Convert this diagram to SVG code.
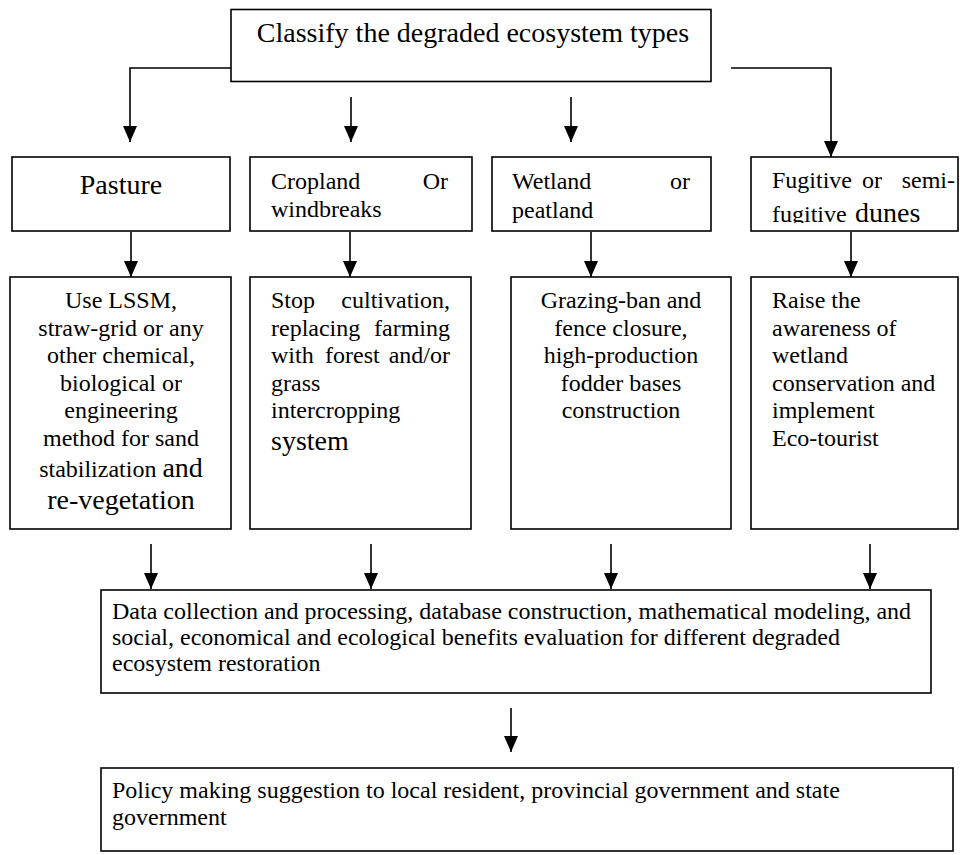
<svg xmlns="http://www.w3.org/2000/svg" width="960" height="855" viewBox="0 0 960 855">
<style>
.box{fill:#fff;stroke:#000;stroke-width:1.6}
.t{font-family:"Liberation Serif","Times New Roman",serif;font-size:24px;fill:#000}
.big{font-size:28px}
.c{text-anchor:middle}
.e{text-anchor:end}
.conn{fill:none;stroke:#000;stroke-width:1.6;marker-end:url(#arr)}
</style>
<defs>
<marker id="arr" markerUnits="userSpaceOnUse" markerWidth="16" markerHeight="14" viewBox="0 0 16 14" refX="16" refY="7" orient="auto">
<path d="M0,0 L16,7 L0,14 z" fill="#000"/>
</marker>
<clipPath id="clipFug"><rect x="751" y="157" width="209" height="66"/></clipPath>
</defs>
<rect width="960" height="855" fill="#fff"/>
<g id="connectors">
<path class="conn" d="M231,68 H130 V142"/>
<path class="conn" d="M351,97 V142"/>
<path class="conn" d="M571,97 V142"/>
<path class="conn" d="M731,68 H831 V157"/>
<path class="conn" d="M131,232 V277"/>
<path class="conn" d="M350,232 V277"/>
<path class="conn" d="M591,232 V277"/>
<path class="conn" d="M851,232 V277"/>
<path class="conn" d="M151,544 V589"/>
<path class="conn" d="M371,544 V589"/>
<path class="conn" d="M611,544 V589"/>
<path class="conn" d="M870,544 V589"/>
<path class="conn" d="M511,708 V752"/>
</g>
<g id="classify">
<rect class="box" x="231" y="9.5" width="480" height="72"/>
<text class="t big c" x="473" y="42">Classify the degraded ecosystem types</text>
</g>
<g id="pasture">
<rect class="box" x="12" y="157" width="218" height="74"/>
<text class="t big c" x="121" y="194">Pasture</text>
</g>
<g id="cropland">
<rect class="box" x="250" y="157" width="222" height="74"/>
<text class="t" x="271" y="189">Cropland</text>
<text class="t e" x="448" y="189">Or</text>
<text class="t" x="271" y="217">windbreaks</text>
</g>
<g id="wetland">
<rect class="box" x="492" y="157" width="219" height="74"/>
<text class="t" x="512" y="189">Wetland</text>
<text class="t e" x="690" y="189">or</text>
<text class="t" x="512" y="218">peatland</text>
</g>
<g id="dunes">
<rect class="box" x="751" y="157" width="207" height="74"/>
<text class="t" x="772" y="188">Fugitive</text>
<text class="t" x="862" y="188">or</text>
<text class="t e" x="955" y="188">semi-</text>
<g clip-path="url(#clipFug)">
<text class="t" x="772" y="222">fugitive</text>
</g>
<text class="t big" x="855" y="222">dunes</text>
</g>
<g id="pasture-method">
<rect class="box" x="10" y="277" width="221" height="252"/>
<text class="t c" x="121" y="308">Use LSSM,</text>
<text class="t c" x="121" y="336">straw-grid or any</text>
<text class="t c" x="121" y="363">other chemical,</text>
<text class="t c" x="121" y="391">biological or</text>
<text class="t c" x="121" y="418">engineering</text>
<text class="t c" x="121" y="446">method for sand</text>
<text class="t c" x="121" y="477">stabilization <tspan class="big">and</tspan></text>
<text class="t big c" x="121" y="509">re-vegetation</text>
</g>
<g id="cropland-method">
<rect class="box" x="250" y="277" width="221" height="252"/>
<text class="t" x="271" y="308">Stop</text>
<text class="t e" x="450" y="308">cultivation,</text>
<text class="t" x="271" y="336">replacing</text>
<text class="t e" x="450" y="336">farming</text>
<text class="t" x="271" y="363">with</text>
<text class="t" x="325" y="363">forest</text>
<text class="t e" x="450" y="363">and/or</text>
<text class="t" x="271" y="391">grass</text>
<text class="t" x="271" y="418">intercropping</text>
<text class="t big" x="271" y="450">system</text>
</g>
<g id="wetland-method">
<rect class="box" x="511" y="277" width="220" height="252"/>
<text class="t c" x="621" y="308">Grazing-ban and</text>
<text class="t c" x="621" y="336">fence closure,</text>
<text class="t c" x="621" y="363">high-production</text>
<text class="t c" x="621" y="391">fodder bases</text>
<text class="t c" x="621" y="418">construction</text>
</g>
<g id="dunes-method">
<rect class="box" x="751" y="277" width="207" height="252"/>
<text class="t" x="772" y="308">Raise the</text>
<text class="t" x="772" y="336">awareness of</text>
<text class="t" x="772" y="363">wetland</text>
<text class="t" x="772" y="391">conservation and</text>
<text class="t" x="772" y="418">implement</text>
<text class="t" x="772" y="446">Eco-tourist</text>
</g>
<g id="data">
<rect class="box" x="101" y="590" width="830" height="103"/>
<text class="t" x="112" y="619">Data collection and processing, database construction, mathematical modeling, and</text>
<text class="t" x="112" y="645">social, economical and ecological benefits evaluation for different degraded</text>
<text class="t" x="112" y="671">ecosystem restoration</text>
</g>
<g id="policy">
<rect class="box" x="101" y="768" width="852" height="83"/>
<text class="t" x="112" y="798">Policy making suggestion to local resident, provincial government and state</text>
<text class="t" x="112" y="825">government</text>
</g>
</svg>
